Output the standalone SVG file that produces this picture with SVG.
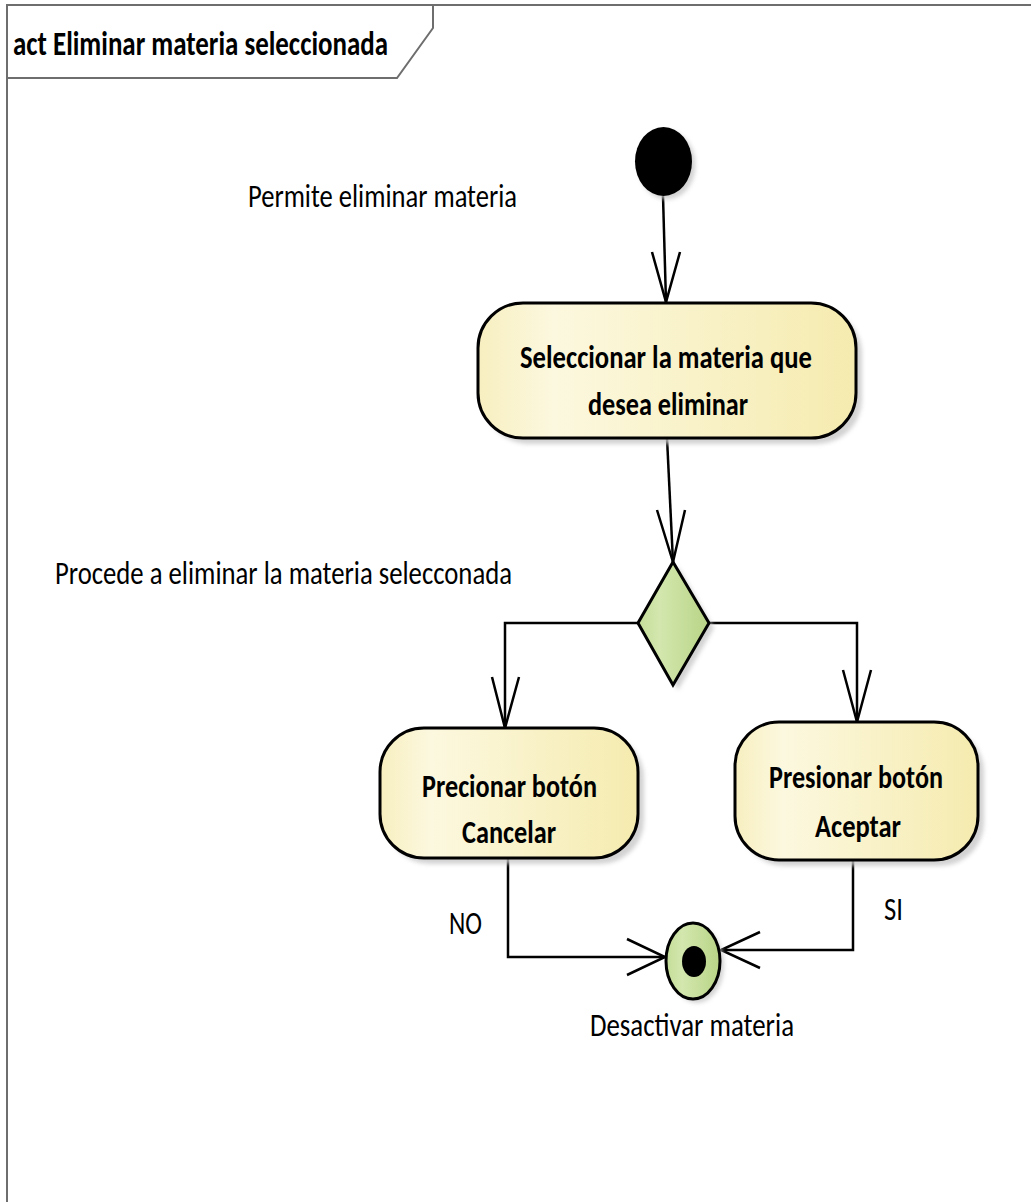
<svg xmlns="http://www.w3.org/2000/svg" width="1031" height="1202" viewBox="0 0 1031 1202">
<style>
.frame{fill:none;stroke:#6e6e6e;stroke-width:2}
.edge{fill:none;stroke:#000;stroke-width:2.5}
.node{stroke:#000;stroke-width:3}
.act{fill:url(#gAct)}
.grn{fill:url(#gGrn)}
.shadow{fill:#c8c8c8;opacity:0.8;filter:url(#blur)}
text{font-family:Carlito,"Liberation Sans Narrow","Liberation Sans",Arial,sans-serif;font-size:33px;fill:#000}
.b{font-weight:bold}
</style>
<defs>
<linearGradient id="gAct" x1="0" y1="0" x2="1" y2="0">
<stop offset="0" stop-color="#F7EFC0"/>
<stop offset="0.2" stop-color="#FCF8DF"/>
<stop offset="1" stop-color="#F5EBAF"/>
</linearGradient>
<linearGradient id="gGrn" x1="0" y1="0" x2="1" y2="0">
<stop offset="0" stop-color="#C4DD98"/>
<stop offset="0.3" stop-color="#D3E7AE"/>
<stop offset="1" stop-color="#B8D486"/>
</linearGradient>
<filter id="blur" x="-10%" y="-10%" width="120%" height="120%"><feGaussianBlur stdDeviation="2"/></filter>
</defs>
<rect width="1031" height="1202" fill="#fff"/>
<g id="frame">
<path class="frame" d="M7,1202 V5 H1031"/>
<path class="frame" d="M7,78 H397 L433,28 V5"/>
<text class="b" x="13" y="55" style="font-size:34px" textLength="375" lengthAdjust="spacingAndGlyphs">act Eliminar materia seleccionada</text>
</g>
<g id="connectors">
<path class="edge" d="M663,196 L666,302"/>
<path class="edge" d="M652,252 L666,302 L680,252"/>
<path class="edge" d="M667,438 L673,562"/>
<path class="edge" d="M657,510 L673,562 L685,510"/>
<path class="edge" d="M638,623 H505 V728"/>
<path class="edge" d="M492,677 L505,728 L519,677"/>
<path class="edge" d="M709,623 H857 V722"/>
<path class="edge" d="M843,670 L857,722 L871,670"/>
<path class="edge" d="M508,858 V957 H665"/>
<path class="edge" d="M627,939 L665,957 L627,975"/>
<path class="edge" d="M853,860 V950 H721"/>
<path class="edge" d="M760,932 L721,950 L760,968"/>
<text x="449" y="934" textLength="33" lengthAdjust="spacingAndGlyphs">NO</text>
<text x="884" y="920" textLength="19" lengthAdjust="spacingAndGlyphs">SI</text>
</g>
<g id="start">
<ellipse cx="667" cy="165" rx="28.5" ry="34.5" class="shadow"/>
<ellipse cx="663.5" cy="161.5" rx="28.5" ry="34.5" fill="#000"/>
</g>
<g id="label-permite">
<text x="248" y="207" textLength="269" lengthAdjust="spacingAndGlyphs">Permite eliminar materia</text>
</g>
<g id="act-seleccionar">
<rect x="484" y="309" width="378" height="135" rx="45" class="shadow"/>
<rect x="478" y="303" width="378" height="135" rx="45" class="node act"/>
<text class="b" x="520" y="368" textLength="292" lengthAdjust="spacingAndGlyphs">Seleccionar la materia que</text>
<text class="b" x="588" y="415" textLength="160" lengthAdjust="spacingAndGlyphs">desea eliminar</text>
</g>
<g id="decision">
<path d="M678,567 L714,628 L678,690 L643,628 Z" class="shadow"/>
<path d="M673,562 L709,623 L673,685 L638,623 Z" class="node grn"/>
</g>
<g id="label-procede">
<text x="55" y="584" textLength="457" lengthAdjust="spacingAndGlyphs">Procede a eliminar la materia selecconada</text>
</g>
<g id="act-cancelar">
<rect x="386" y="734" width="258" height="130" rx="44" class="shadow"/>
<rect x="380" y="728" width="258" height="130" rx="44" class="node act"/>
<text class="b" x="422" y="797" textLength="175" lengthAdjust="spacingAndGlyphs">Precionar botón</text>
<text class="b" x="462" y="843" textLength="94" lengthAdjust="spacingAndGlyphs">Cancelar</text>
</g>
<g id="act-aceptar">
<rect x="741" y="728" width="243" height="138" rx="44" class="shadow"/>
<rect x="735" y="722" width="243" height="138" rx="44" class="node act"/>
<text class="b" x="769" y="788" textLength="174" lengthAdjust="spacingAndGlyphs">Presionar botón</text>
<text class="b" x="815" y="837" textLength="86" lengthAdjust="spacingAndGlyphs">Aceptar</text>
</g>
<g id="final">
<ellipse cx="697" cy="965" rx="27" ry="38" class="shadow"/>
<ellipse cx="693" cy="961" rx="27" ry="38" class="node grn"/>
<ellipse cx="694" cy="961.5" rx="12" ry="15.5" fill="#000"/>
<text x="590" y="1036" textLength="204" lengthAdjust="spacingAndGlyphs">Desactivar materia</text>
</g>
</svg>
